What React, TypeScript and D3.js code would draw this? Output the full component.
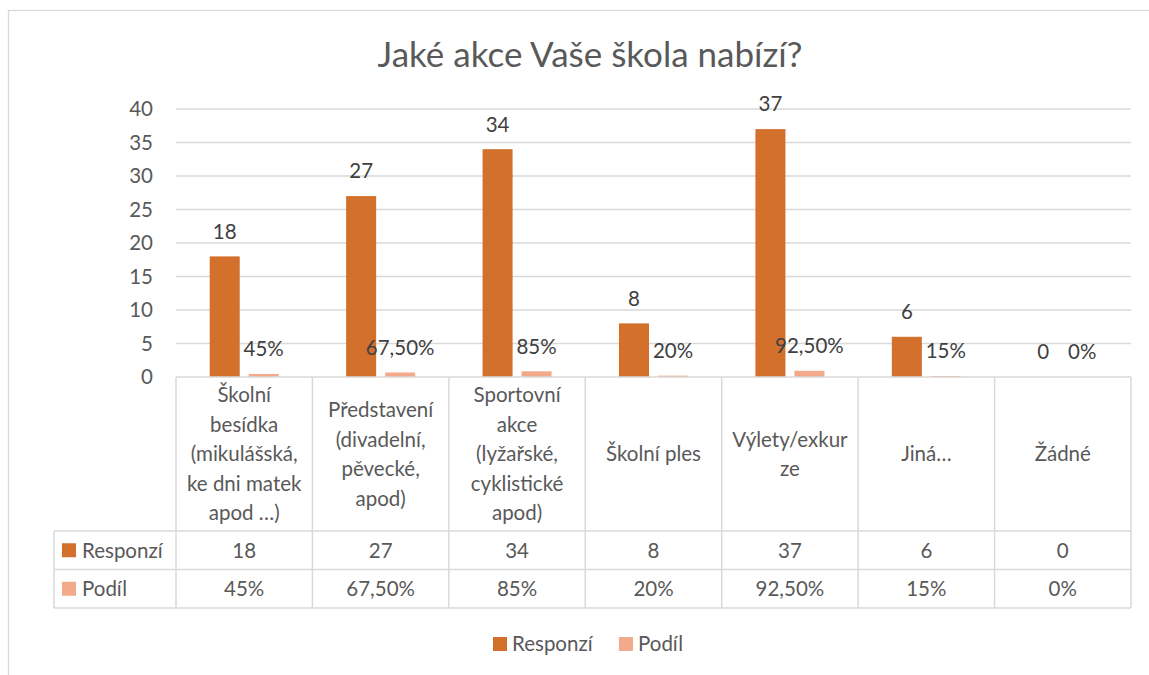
import { useEffect, useRef } from 'react';
import * as d3 from 'd3';

const title = "Jaké akce Vaše škola nabízí?";
const categories = [
  "Školní besídka (mikulášská, ke dni matek apod …)",
  "Představení (divadelní, pěvecké, apod)",
  "Sportovní akce (lyžařské, cyklistické apod)",
  "Školní ples",
  "Výlety/exkurze",
  "Jiná…",
  "Žádné",
];
// wrapped the way the table header shows them
const categoryLines = [
  ["Školní", "besídka", "(mikulášská,", "ke dni matek", "apod …)"],
  ["Představení", "(divadelní,", "pěvecké,", "apod)"],
  ["Sportovní", "akce", "(lyžařské,", "cyklistické", "apod)"],
  ["Školní ples"],
  ["Výlety/exkur", "ze"],
  ["Jiná…"],
  ["Žádné"],
];
const seriesNames = ["Responzí", "Podíl"];
const responzi = [18, 27, 34, 8, 37, 6, 0];
const podil = [0.45, 0.675, 0.85, 0.2, 0.925, 0.15, 0];
const responziLabels = ["18", "27", "34", "8", "37", "6", "0"];
const podilLabels = ["45%", "67,50%", "85%", "20%", "92,50%", "15%", "0%"];
const seriesColors = ["#D2702C", "#F2AA8B"];

export default function App() {
  const svgRef = useRef<SVGSVGElement>(null);

  useEffect(() => {
    const svg = d3.select(svgRef.current);
    svg.selectAll("*").remove();

    const left = 176, right = 1131, top = 109, bottom = 377;
    const headerBottom = 531, rowH = 38.5;
    const grid = "#D9D9D9";
    const textCol = "#595959";
    const font = "Lato, 'Open Sans', sans-serif";
    const fs = "20.5px";

    svg.style("font-family", font);

    // outer chart frame
    svg.append("rect")
      .attr("x", 8.5).attr("y", 10.5)
      .attr("width", 1160).attr("height", 700)
      .attr("fill", "#fff").attr("stroke", grid).attr("stroke-width", 1.3);

    svg.append("text")
      .attr("x", 590).attr("y", 67)
      .attr("text-anchor", "middle")
      .attr("fill", textCol)
      .style("font-size", "35px")
      .text(title);

    const x = d3.scaleBand<number>()
      .domain(d3.range(categories.length))
      .range([left, right]);
    const bw = x.bandwidth();
    const x1 = d3.scaleBand<string>()
      .domain(seriesNames)
      .range([bw * 0.247, bw * 0.753])
      .paddingInner(0.23);
    const y = d3.scaleLinear().domain([0, 40]).range([bottom, top]);

    // gridlines + y tick labels
    const ticks = y.ticks(8);
    svg.append("g").selectAll("line")
      .data(ticks.filter(t => t > 0))
      .join("line")
      .attr("x1", left).attr("x2", right)
      .attr("y1", d => y(d)).attr("y2", d => y(d))
      .attr("stroke", grid).attr("stroke-width", 1.3);
    svg.append("g").selectAll("text")
      .data(ticks)
      .join("text")
      .attr("x", 153).attr("y", d => y(d))
      .attr("dy", "0.36em")
      .attr("text-anchor", "end")
      .attr("fill", textCol)
      .style("font-size", fs)
      .text(d => d);

    // bars
    const allSeries = [responzi, podil];
    const allLabels = [responziLabels, podilLabels];
    allSeries.forEach((vals, si) => {
      const g = svg.append("g");
      g.selectAll("rect")
        .data(vals)
        .join("rect")
        .attr("x", (_, i) => (x(i) as number) + (x1(seriesNames[si]) as number))
        .attr("width", x1.bandwidth())
        .attr("y", d => y(d))
        .attr("height", d => y(0) - y(d))
        .attr("fill", seriesColors[si]);
      g.selectAll("text")
        .data(vals)
        .join("text")
        .attr("x", (_, i) => (x(i) as number) + (x1(seriesNames[si]) as number) + x1.bandwidth() / 2)
        .attr("y", d => y(d) - 25)
        .attr("dy", "0.36em")
        .attr("text-anchor", "middle")
        .attr("fill", "#404040")
        .style("font-size", fs)
        .text((_, i) => allLabels[si][i]);
    });

    // data table
    const tbl = svg.append("g").attr("stroke", grid).attr("stroke-width", 1.5).attr("fill", "none");
    tbl.append("line").attr("x1", left).attr("x2", right).attr("y1", bottom).attr("y2", bottom);
    [headerBottom, headerBottom + rowH, headerBottom + 2 * rowH].forEach(yy => {
      tbl.append("line").attr("x1", 54).attr("x2", right).attr("y1", yy).attr("y2", yy);
    });
    tbl.append("line").attr("x1", 54).attr("x2", 54)
      .attr("y1", headerBottom).attr("y2", headerBottom + 2 * rowH);
    d3.range(categories.length + 1).forEach(i => {
      const xx = i < categories.length ? (x(i) as number) : right;
      tbl.append("line").attr("x1", xx).attr("x2", xx)
        .attr("y1", bottom).attr("y2", headerBottom + 2 * rowH);
    });

    // header labels
    const lineH = 29.5;
    const midHeader = (bottom + headerBottom) / 2;
    categoryLines.forEach((lines, i) => {
      const cx = (x(i) as number) + bw / 2;
      const t = svg.append("text")
        .attr("text-anchor", "middle")
        .attr("fill", textCol)
        .style("font-size", fs);
      lines.forEach((ln, k) => {
        t.append("tspan")
          .attr("x", cx)
          .attr("y", midHeader + (k - (lines.length - 1) / 2) * lineH)
          .attr("dy", "0.36em")
          .text(ln);
      });
    });

    // value rows
    allLabels.forEach((labels, si) => {
      const cy = headerBottom + rowH * (si + 0.5);
      svg.append("rect")
        .attr("x", 62).attr("y", cy - 7).attr("width", 14).attr("height", 14)
        .attr("fill", seriesColors[si]);
      svg.append("text")
        .attr("x", 82).attr("y", cy).attr("dy", "0.36em")
        .attr("fill", textCol).style("font-size", fs)
        .text(seriesNames[si]);
      svg.append("g").selectAll("text")
        .data(labels)
        .join("text")
        .attr("x", (_, i) => (x(i) as number) + bw / 2)
        .attr("y", cy).attr("dy", "0.36em")
        .attr("text-anchor", "middle")
        .attr("fill", textCol)
        .style("font-size", fs)
        .text(d => d);
    });

    // legend
    const legendX = [493, 619];
    seriesNames.forEach((name, si) => {
      svg.append("rect")
        .attr("x", legendX[si]).attr("y", 637).attr("width", 14).attr("height", 14)
        .attr("fill", seriesColors[si]);
      svg.append("text")
        .attr("x", legendX[si] + 19).attr("y", 644).attr("dy", "0.36em")
        .attr("fill", textCol).style("font-size", fs)
        .text(name);
    });
  }, []);

  return (
    <svg
      ref={svgRef}
      width={1149}
      height={675}
      style={{ position: 'absolute', left: 0, top: 0 }}
    />
  );
}
